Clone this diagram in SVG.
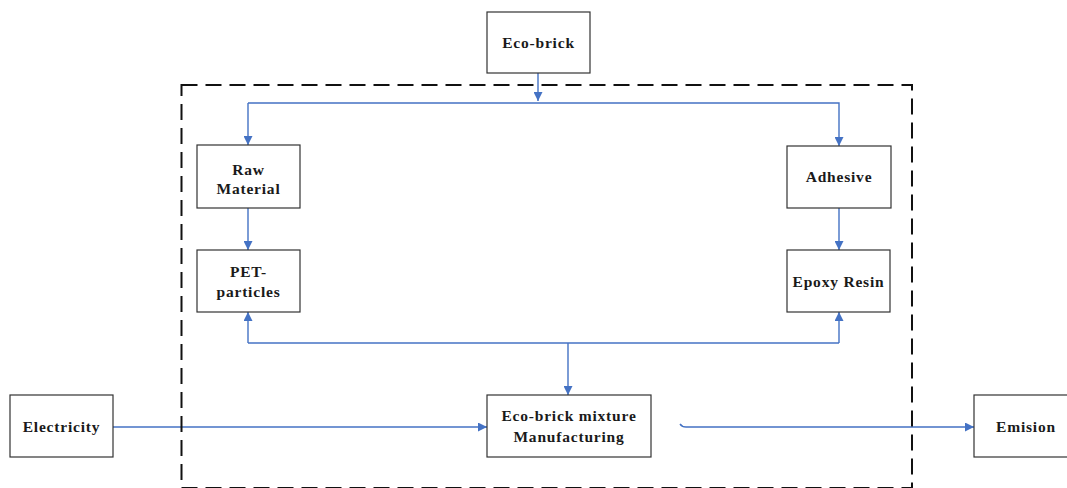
<svg xmlns="http://www.w3.org/2000/svg" width="1067" height="488" viewBox="0 0 1067 488">
<style>
.box{fill:#fff;stroke:#333;stroke-width:1.2}
.lbl{font-family:"Liberation Serif","Times New Roman",serif;font-weight:bold;font-size:15.5px;letter-spacing:0.8px;fill:#1a1a1a;text-anchor:middle}
.con{fill:none;stroke:#4472C4;stroke-width:1.4}
.dash{fill:none;stroke:#111;stroke-width:2;stroke-dasharray:16 8}
</style>
<defs>
<marker id="arr" viewBox="0 0 10 10" refX="10" refY="5" markerWidth="9" markerHeight="9" markerUnits="userSpaceOnUse" orient="auto">
<path d="M0,0 L10,5 L0,10 z" fill="#4472C4"/>
</marker>
</defs>
<rect x="0" y="0" width="1067" height="488" fill="#fff"/>
<g id="connectors">
<path class="con" d="M538,73 V101" marker-end="url(#arr)"/>
<path class="con" d="M248,103 H839 V146" marker-end="url(#arr)"/>
<path class="con" d="M248,103 V145" marker-end="url(#arr)"/>
<path class="con" d="M248,208 V250" marker-end="url(#arr)"/>
<path class="con" d="M839,208 V250" marker-end="url(#arr)"/>
<path class="con" d="M248,343 H839"/>
<path class="con" d="M248,343 V312" marker-end="url(#arr)"/>
<path class="con" d="M839,343 V312" marker-end="url(#arr)"/>
<path class="con" d="M568,343 V395" marker-end="url(#arr)"/>
<path class="con" d="M113,427 H487" marker-end="url(#arr)"/>
<path class="con" d="M680,424 Q682,427 686,427 H974" marker-end="url(#arr)"/>
</g>
<rect id="boundary" class="dash" x="181.5" y="85" width="730.5" height="403"/>
<g id="eco-brick">
<rect class="box" x="487" y="12" width="103" height="61"/>
<text class="lbl" x="538.5" y="48">Eco-brick</text>
</g>
<g id="raw-material">
<rect class="box" x="197" y="145" width="103" height="63"/>
<text class="lbl" x="248.5" y="175">Raw</text>
<text class="lbl" x="248.5" y="194">Material</text>
</g>
<g id="adhesive">
<rect class="box" x="787" y="146" width="104" height="62"/>
<text class="lbl" x="839" y="182">Adhesive</text>
</g>
<g id="pet-particles">
<rect class="box" x="197" y="250" width="103" height="62"/>
<text class="lbl" x="248.5" y="277">PET-</text>
<text class="lbl" x="248.5" y="297">particles</text>
</g>
<g id="epoxy-resin">
<rect class="box" x="787" y="250" width="103" height="62"/>
<text class="lbl" x="838.5" y="287">Epoxy Resin</text>
</g>
<g id="electricity">
<rect class="box" x="10" y="395" width="103" height="62"/>
<text class="lbl" x="61.5" y="432">Electricity</text>
</g>
<g id="manufacturing">
<rect class="box" x="487" y="395" width="164" height="62"/>
<text class="lbl" x="569" y="421">Eco-brick mixture</text>
<text class="lbl" x="569" y="442">Manufacturing</text>
</g>
<g id="emision">
<rect class="box" x="974" y="395" width="104" height="62"/>
<text class="lbl" x="1026" y="432">Emision</text>
</g>
</svg>
